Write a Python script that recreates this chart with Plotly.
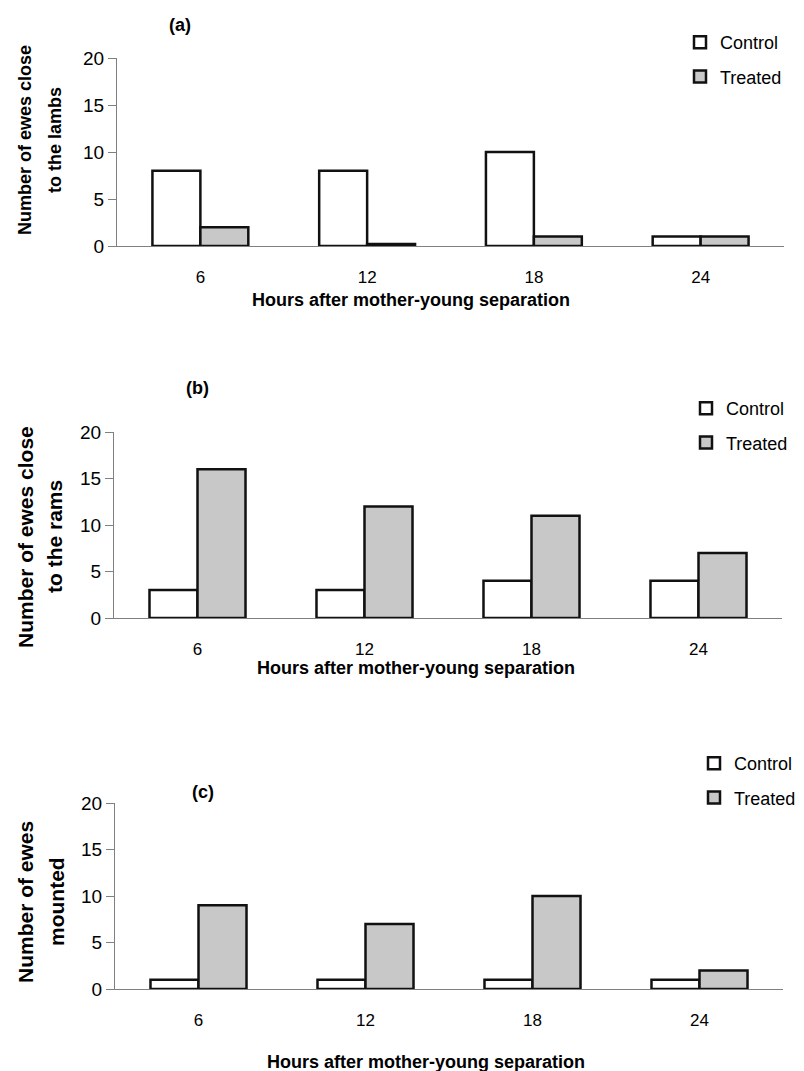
import plotly.graph_objects as go

# page offset of the plot inside the browser (default body margin)
OFF = 8
W, H = 804 - OFF, 1071 - OFF

hours = ["6", "12", "18", "24"]

# (a) Number of ewes close to the lambs
lambs_control = [8, 8, 10, 1]
lambs_treated = [2, 0.2, 1, 1]

# (b) Number of ewes close to the rams
rams_control = [3, 3, 4, 4]
rams_treated = [16, 12, 11, 7]

# (c) Number of ewes mounted
mounted_control = [1, 1, 1, 1]
mounted_treated = [9, 7, 10, 2]

panel_labels = ["(a)", "(b)", "(c)"]
y_titles = [("Number of ewes close", "to the lambs"),
            ("Number of ewes close", "to the rams"),
            ("Number of ewes", "mounted")]
x_title = "Hours after mother-young separation"
series_names = ["Control", "Treated"]

FONT = "Liberation Sans, Arial, sans-serif"
CTRL_FILL = "#ffffff"
TRT_FILL = "#c8c8c8"
AXIS_COL = "#808080"


def px(x):
    return (x - OFF) / W


def py(y):
    return 1 - (y - OFF) / H


# target pixel geometry (screen coordinates) of each panel
panels = [
    dict(y20=58, y0=246, x0=117, x1=784, lab=(180, 25), xt=(411, 300),
         yt=((25, 140), (55, 140)), leg=(680, 24), ytfont=18),
    dict(y20=432, y0=618, x0=114, x1=782, lab=(197, 388), xt=(416, 668),
         yt=((25, 537), (54, 537)), leg=(686, 390), ytfont=21),
    dict(y20=803, y0=989, x0=115, x1=783, lab=(203, 792), xt=(426, 1062),
         yt=((25, 902), (56, 902)), leg=(694, 745), ytfont=21),
]

data = [
    (lambs_control, lambs_treated),
    (rams_control, rams_treated),
    (mounted_control, mounted_treated),
]

fig = go.Figure()
layout = dict(
    width=W, height=H,
    margin=dict(l=0, r=0, t=0, b=0, autoexpand=False),
    paper_bgcolor="white", plot_bgcolor="white",
    font=dict(family=FONT, color="black", size=17),
    barmode="group", bargap=0.425, bargroupgap=0,
    showlegend=True,
)
annotations = []

for i, (p, (ctrl, trt)) in enumerate(zip(panels, data)):
    k = "" if i == 0 else str(i + 1)
    xa, ya = "x" + k, "y" + k
    legname = "legend" + k
    for name, vals, fill in [(series_names[0], ctrl, CTRL_FILL), (series_names[1], trt, TRT_FILL)]:
        fig.add_trace(go.Bar(
            x=hours, y=vals, name=name, xaxis=xa, yaxis=ya,
            marker=dict(color=fill, line=dict(color="#111111", width=2.5)),
            legend=legname, legendgroup=name + k,
        ))
    layout["xaxis" + k] = dict(
        domain=[px(p["x0"]), px(p["x1"])], anchor=ya,
        showline=True, linecolor=AXIS_COL, linewidth=1,
        ticks="", showgrid=False, zeroline=False,
        tickfont=dict(size=17, family=FONT), ticklabelstandoff=16,
        type="category",
    )
    layout["yaxis" + k] = dict(
        domain=[py(p["y0"]), py(p["y20"])], anchor=xa,
        range=[0, 20], tickvals=[0, 5, 10, 15, 20],
        showline=True, linecolor=AXIS_COL, linewidth=1,
        ticks="outside", ticklen=8, tickcolor=AXIS_COL, tickwidth=1,
        showgrid=False, zeroline=False,
        tickfont=dict(size=19, family=FONT),
    )
    layout[legname] = dict(
        x=px(p["leg"][0]), y=py(p["leg"][1]), xanchor="left", yanchor="top",
        font=dict(size=18, family=FONT), bgcolor="rgba(0,0,0,0)",
        tracegroupgap=8, traceorder="grouped",
    )
    annotations.append(dict(
        text="<b>" + panel_labels[i] + "</b>", x=px(p["lab"][0]), y=py(p["lab"][1]),
        xref="paper", yref="paper", showarrow=False, xanchor="center", yanchor="middle",
        font=dict(size=18, family=FONT)))
    annotations.append(dict(
        text="<b>" + x_title + "</b>", x=px(p["xt"][0]), y=py(p["xt"][1]),
        xref="paper", yref="paper", showarrow=False, xanchor="center", yanchor="middle",
        font=dict(size=18, family=FONT)))
    for line, (lx, ly) in zip(y_titles[i], p["yt"]):
        annotations.append(dict(
            text="<b>" + line + "</b>", x=px(lx), y=py(ly),
            xref="paper", yref="paper", showarrow=False, xanchor="center", yanchor="middle",
            textangle=-90, font=dict(size=p["ytfont"], family=FONT)))

layout["annotations"] = annotations
fig.update_layout(**layout)
fig.write_html("out.html")
